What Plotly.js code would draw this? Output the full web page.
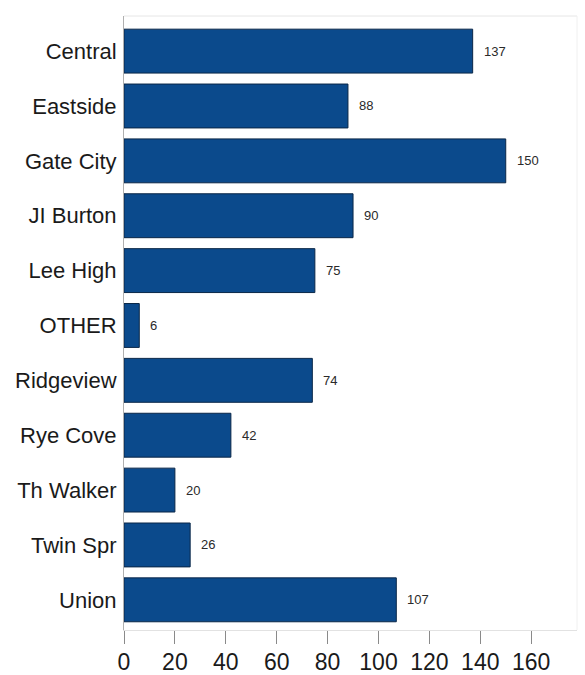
<!DOCTYPE html>
<html>
<head>
<meta charset="utf-8">
<script src="https://cdn.plot.ly/plotly-3.0.1.min.js"></script>
<style>
  html, body { margin: 0; padding: 0; background: #fff; }
  #chart { width: 585px; height: 675px; }
</style>
</head>
<body>
<div id="chart"></div>
<script>
// Enrollment counts by school
const schools = ["Central", "Eastside", "Gate City", "JI Burton", "Lee High", "OTHER",
                 "Ridgeview", "Rye Cove", "Th Walker", "Twin Spr", "Union"];
const counts = [137, 88, 150, 90, 75, 6, 74, 42, 20, 26, 107];
const xTicks = [0, 20, 40, 60, 80, 100, 120, 140, 160];

const FONT = "Liberation Sans, Arial, sans-serif";

const bars = {
  type: "bar",
  orientation: "h",
  y: schools,
  x: counts,
  width: 0.8,
  marker: { color: "#0b4a8c", line: { color: "#0a2748", width: 1 } },
  hoverinfo: "x+y"
};

// value labels placed just past the end of each bar
const labels = schools.map((s, i) => ({
  x: counts[i], y: s, xref: "x", yref: "y",
  text: String(counts[i]), showarrow: false,
  xanchor: "left", xshift: 9,
  font: { family: FONT, size: 13, color: "#2a2a2a" }
}));

const layout = {
  width: 585, height: 675,
  margin: { l: 124, r: 8, t: 16, b: 45 },
  paper_bgcolor: "#fff", plot_bgcolor: "#fff",
  showlegend: false,
  bargap: 0.2,
  xaxis: {
    range: [0, 178],
    tickvals: xTicks,
    ticktext: xTicks.map(String),
    ticks: "outside", ticklen: 13, tickwidth: 1, tickcolor: "#8a8a8a",
    ticklabelstandoff: -2,
    showgrid: false, zeroline: false,
    showline: true, linecolor: "#e2e2e2", linewidth: 1,
    tickfont: { family: FONT, size: 23, color: "#1a1a1a" }
  },
  yaxis: {
    type: "category",
    categoryorder: "array", categoryarray: schools,
    range: [10.55, -0.64],
    ticks: "", ticklabelstandoff: 2,
    showgrid: false, zeroline: false,
    showline: true, linecolor: "#b0b0b0", linewidth: 1,
    tickfont: { family: FONT, size: 22, color: "#1a1a1a" }
  },
  shapes: [
    { type: "line", xref: "paper", yref: "paper", x0: 0, x1: 1, y0: 1, y1: 1,
      line: { color: "#e6e6e6", width: 1 } },
    { type: "line", xref: "paper", yref: "paper", x0: 1, x1: 1, y0: 0, y1: 1,
      line: { color: "#f0f0f0", width: 1 } }
  ],
  annotations: labels
};

Plotly.newPlot("chart", [bars], layout, { displayModeBar: false, staticPlot: true });
</script>
</body>
</html>
